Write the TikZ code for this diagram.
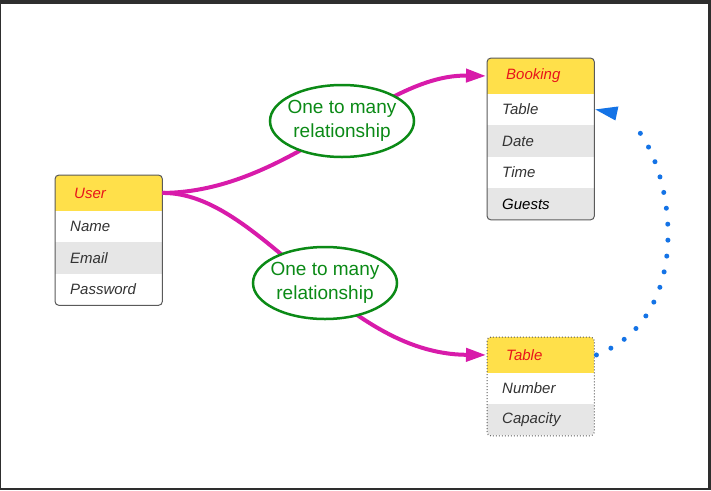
\documentclass[tikz,border=0pt]{standalone}
\usepackage{fontspec}
\setmainfont{Liberation Sans}
\usetikzlibrary{shapes.geometric,arrows.meta}
\definecolor{hy}{HTML}{FFE04A}
\definecolor{hr}{HTML}{E8141A}
\definecolor{rg}{HTML}{E6E6E6}
\definecolor{tx}{HTML}{333333}
\definecolor{bd}{HTML}{5A5A5A}
\definecolor{gg}{HTML}{0B8A16}
\definecolor{mg}{HTML}{D81BAA}
\definecolor{bl}{HTML}{1473E6}
\definecolor{fr}{HTML}{2E2E2E}
\tikzset{
  cell/.style={anchor=north west, rectangle, minimum width=107pt, text width=77pt, inner xsep=15pt, inner ysep=0pt, align=left, font=\itshape\fontsize{15}{18}\selectfont},
  hdr/.style={cell, minimum height=35.5pt, fill=hy, text=hr},
  plainrow/.style={cell, minimum height=31.5pt, fill=white, text=tx},
  grayrow/.style={plainrow, fill=rg},
  rel/.style={ellipse, draw=gg, line width=2.5pt, fill=white, minimum width=144pt, minimum height=72pt, inner xsep=-7pt, inner ysep=0pt, text=gg, align=center, font=\fontsize{19}{24}\selectfont},
  link/.style={mg, line width=4pt, -{Triangle[length=20pt,width=13pt]}},
  dots/.style={bl, line width=5pt, line cap=round, dash pattern=on 0pt off 16pt},
}
\begin{document}
\begin{tikzpicture}[x=1pt,y=-1pt]
\fill[fr] (0,0) rectangle (711,490);
\fill[white] (1,4) rectangle (708,488);
\useasboundingbox (0,0) rectangle (711,490);
% User
\begin{scope}
\clip[rounded corners=4pt] (55,175) rectangle (162,305);
\node[hdr] (uh) at (55,175) {\hspace{4pt}User};
\node[plainrow] (u1) at (55,210.5) {Name};
\node[grayrow] (u2) at (55,242) {Email};
\node[plainrow] (u3) at (55,273.5) {Password};
\end{scope}
\draw[bd, line width=1pt, rounded corners=4pt] (uh.north west) rectangle (u3.south east);
% Booking
\begin{scope}
\clip[rounded corners=4pt] (487,58) rectangle (594,219.5);
\node[hdr] (bh) at (487,58) {\hspace{4pt}Booking};
\node[plainrow] (b1) at (487,93.5) {Table};
\node[grayrow] (b2) at (487,125) {Date};
\node[plainrow] (b3) at (487,156.5) {Time};
\node[grayrow, text=black] (b4) at (487,188) {Guests};
\end{scope}
\draw[bd, line width=1pt, rounded corners=4pt] (bh.north west) rectangle (b4.south east);
% Table
\begin{scope}
\clip[rounded corners=4pt] (487,337) rectangle (594,435);
\node[hdr] (th) at (487,337) {\hspace{4pt}Table};
\node[plainrow] (t1) at (487,372.5) {Number};
\node[grayrow] (t2) at (487,404) {Capacity};
\end{scope}
\draw[bd, line width=1pt, dotted, rounded corners=4pt] (th.north west) rectangle (t2.south east);
% links
\draw[link] (uh.east) .. controls (290,192) and (380,74) .. ([xshift=-1pt]bh.west);
\draw[link] (uh.east) .. controls (260,192) and (340,354) .. ([xshift=-1pt]th.west);
\coordinate (dotend) at ([xshift=37pt,yshift=-13.5pt]b1.east);
\draw[dots] ([xshift=2pt]th.east) .. controls (700,315) and (672,160) .. (dotend);
\fill[bl] ([xshift=1pt]b1.east) -- ++(23,-3) -- ++(-3,14) -- cycle;
% relationship labels
\node[rel] (r1) at (342,121) {One to many\\relationship};
\node[rel] (r2) at (325,283) {One to many\\relationship};
\end{tikzpicture}
\end{document}
